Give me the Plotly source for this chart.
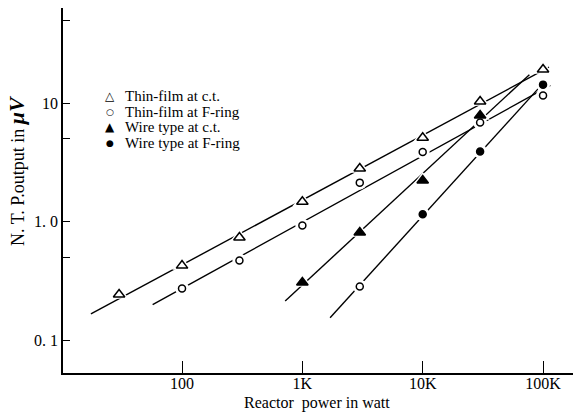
import numpy as np
import plotly.graph_objects as go

# ---------------- data ----------------
thin_ct_x = [30, 100, 300, 1000, 3000, 10000, 30000, 100000]
thin_ct_y = [0.242, 0.425, 0.733, 1.47, 2.80, 5.1, 10.3, 19.2]

thin_fr_x = [100, 300, 1000, 3000, 10000, 30000, 100000]
thin_fr_y = [0.272, 0.469, 0.925, 2.13, 3.86, 6.84, 11.6]

wire_ct_x = [1000, 3000, 10000, 30000]
wire_ct_y = [0.306, 0.81, 2.22, 7.85]

wire_fr_x = [3000, 10000, 30000, 100000]
wire_fr_y = [0.283, 1.15, 3.9, 14.3]
wire_fr_filled = [False, True, True, True]

# extent (in watt) of each straight fitted line
thin_ct_fit = [17.5, 112000]
thin_fr_fit = [57, 115000]
wire_ct_fit = [720, 77000]
wire_fr_fit = [1700, 100000]

series_names = ["Thin-film at c.t.", "Thin-film at F-ring",
                "Wire type at c.t.", "Wire type at F-ring"]
legend_symbols = ["\u25B3", "\u25CB", "\u25B2", "\u25CF"]

x_tickvals = [100, 1000, 10000, 100000]
x_ticktext = ["100", "1K", "10K", "100K"]
y_tickvals = [0.1, 0.5, 1, 5, 10, 50]
y_ticktext = ["0. 1", "", "1. 0", "", "10", ""]

FONT = "Liberation Serif"

fig = go.Figure()

series = [
    (thin_ct_x, thin_ct_y, thin_ct_fit, "triangle-up", 10, ["white"] * len(thin_ct_x)),
    (thin_fr_x, thin_fr_y, thin_fr_fit, "circle", 7, ["white"] * len(thin_fr_x)),
    (wire_ct_x, wire_ct_y, wire_ct_fit, "triangle-up", 10, ["black"] * len(wire_ct_x)),
    (wire_fr_x, wire_fr_y, wire_fr_fit, "circle", 7,
     ["black" if f else "white" for f in wire_fr_filled]),
]

# fitted straight lines (log-log)
for xs, ys, rng, sym, sz, fills in series:
    k, b = np.polyfit(np.log10(xs), np.log10(ys), 1)
    lx = np.log10(rng)
    fig.add_trace(go.Scatter(
        x=10 ** lx, y=10 ** (k * lx + b), mode="lines",
        line=dict(color="black", width=1.4), showlegend=False, hoverinfo="skip"))

# white halos to break the lines around markers
for xs, ys, rng, sym, sz, fills in series:
    fig.add_trace(go.Scatter(
        x=xs, y=ys, mode="markers",
        marker=dict(symbol=sym, size=sz + 7, color="white",
                    line=dict(width=0)),
        showlegend=False, hoverinfo="skip"))

# markers
for (xs, ys, rng, sym, sz, fills), name in zip(series, series_names):
    fig.add_trace(go.Scatter(
        x=xs, y=ys, mode="markers", name=name,
        marker=dict(symbol=sym, size=sz, color=fills,
                    line=dict(color="black", width=1.5)),
        showlegend=False))

W, H = 573, 412
L, R, T, B = 63, 0, 8, 39
pw, ph = W - L - R, H - T - B
def px(xp):
    return (xp - L) / pw
def py(yp):
    return 1 - (yp - T) / ph

# legend drawn as text
legend_rows = [96, 112, 127, 143]
sym_sizes = [12, 9, 12, 9]
annotations = []
for i, (name, s) in enumerate(zip(series_names, legend_symbols)):
    annotations.append(dict(
        text=s, xref="paper", yref="paper", x=px(110), y=py(legend_rows[i]),
        xanchor="center", yanchor="middle", showarrow=False,
        font=dict(family="DejaVu Sans", size=sym_sizes[i], color="black")))
    annotations.append(dict(
        text=name, xref="paper", yref="paper", x=px(123), y=py(legend_rows[i]),
        xanchor="left", yanchor="middle", showarrow=False,
        font=dict(family=FONT, size=15, color="black")))

annotations.append(dict(
    text="N. T. P.output in <b><i><span style='font-size:22px'>\u03bcV</span></i></b>",
    xref="paper", yref="paper", x=px(16), y=py(171), textangle=-90,
    xanchor="center", yanchor="middle", showarrow=False,
    font=dict(family=FONT, size=18, color="black")))
annotations.append(dict(
    text="Reactor  power in watt", xref="paper", yref="paper",
    x=px(317), y=py(403), xanchor="center", yanchor="middle", showarrow=False,
    font=dict(family=FONT, size=16, color="black")))

axis_common = dict(
    type="log", showline=True, linecolor="black", linewidth=1.5,
    ticks="inside", tickcolor="black", tickwidth=1.3,
    showgrid=False, zeroline=False, tickmode="array",
    tickfont=dict(family=FONT, size=16, color="black"),
)

fig.update_layout(
    width=W, height=H,
    margin=dict(l=L, r=R, t=T, b=B),
    paper_bgcolor="white", plot_bgcolor="white",
    showlegend=False,
    xaxis=dict(axis_common, range=[1.011, 5.249], tickvals=x_tickvals,
               ticktext=x_ticktext, ticklen=12, ticklabelstandoff=-5),
    yaxis=dict(axis_common, range=[-1.278, 1.802], tickvals=y_tickvals,
               ticktext=y_ticktext, ticklen=7),
    annotations=annotations,
)

fig.write_html("out.html",
               config={"displayModeBar": False},
               post_script="document.body.style.margin='0px';"
                           "document.documentElement.style.overflow='hidden';")
